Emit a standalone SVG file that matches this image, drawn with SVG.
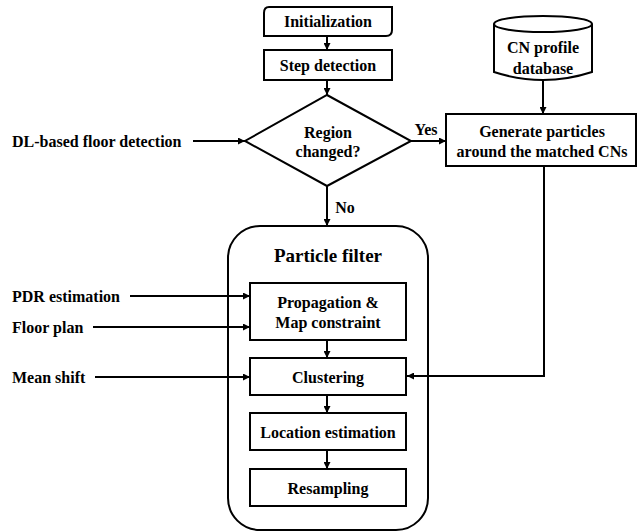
<svg xmlns="http://www.w3.org/2000/svg" width="638" height="532" viewBox="0 0 638 532">
<defs>
<marker id="ah" viewBox="0 0 10 10" refX="10" refY="5" markerWidth="8" markerHeight="7" markerUnits="userSpaceOnUse" orient="auto">
<path d="M0,0 L10,5 L0,10 z" fill="#000"/>
</marker>
<style>
.box{fill:#fff;stroke:#000;stroke-width:2}
text{font-family:'Liberation Serif','Times New Roman',serif;font-weight:bold;font-size:16px;fill:#000;dominant-baseline:central}
.t{text-anchor:middle}
.c{fill:none;stroke:#000;stroke-width:2;marker-end:url(#ah)}
</style>
</defs>
<rect width="638" height="532" fill="#fff"/>
<g id="particle-filter">
<rect class="box" x="228" y="226" width="200" height="304" rx="32" ry="32"/>
<text class="t" x="328" y="255" style="font-size:19px">Particle filter</text>
</g>
<g id="connectors">
<path class="c" d="M327,36 L327,50"/>
<path class="c" d="M327,80 L327,95"/>
<path class="c" d="M327,186 L327,226"/>
<path class="c" d="M411,141 L446,141"/>
<path class="c" d="M193,141 L245,141"/>
<path class="c" d="M543,80 L543,114"/>
<path class="c" d="M544,166 L544,376 L407,376"/>
<path class="c" d="M130,296 L250,296"/>
<path class="c" d="M93,327 L250,327"/>
<path class="c" d="M95,377 L250,377"/>
<path class="c" d="M327,340 L327,358"/>
<path class="c" d="M327,395 L327,413"/>
<path class="c" d="M327,450 L327,469"/>
</g>
<g id="initialization">
<path class="box" d="M269,7 L392,7 L392,30 Q392,36 386,36 L264,36 L264,13 Q264,7 269,7 z"/>
<text class="t" x="328" y="21">Initialization</text>
</g>
<g id="step-detection">
<rect class="box" x="264" y="50" width="128" height="30"/>
<text class="t" x="328" y="65">Step detection</text>
</g>
<g id="region-changed">
<path class="box" d="M327,95 L411,141 L327,186 L245,141 z"/>
<text class="t" x="328" y="132">Region</text>
<text class="t" x="328" y="151">changed?</text>
</g>
<g id="cn-db">
<path class="box" d="M494,24 L494,72 Q543,88 592,72 L592,24"/>
<ellipse class="box" cx="543" cy="24" rx="49" ry="8"/>
<text class="t" x="543" y="47">CN profile</text>
<text class="t" x="543" y="68">database</text>
</g>
<g id="generate">
<rect class="box" x="446" y="114" width="190" height="52"/>
<text class="t" x="542" y="131">Generate particles</text>
<text class="t" x="542" y="151">around the matched CNs</text>
</g>
<g id="propagation">
<rect class="box" x="250" y="283" width="156" height="57"/>
<text class="t" x="328" y="302">Propagation &amp;</text>
<text class="t" x="328" y="322">Map constraint</text>
</g>
<g id="clustering">
<rect class="box" x="250" y="358" width="156" height="37"/>
<text class="t" x="328" y="377">Clustering</text>
</g>
<g id="location">
<rect class="box" x="250" y="413" width="156" height="37"/>
<text class="t" x="328" y="432">Location estimation</text>
</g>
<g id="resampling">
<rect class="box" x="250" y="469" width="156" height="37"/>
<text class="t" x="328" y="488">Resampling</text>
</g>
<g id="labels">
<text x="12" y="141">DL-based floor detection</text>
<text x="12" y="296">PDR estimation</text>
<text x="12" y="327">Floor plan</text>
<text x="12" y="377">Mean shift</text>
<text class="t" x="426" y="129">Yes</text>
<text class="t" x="345" y="207">No</text>
</g>
</svg>
